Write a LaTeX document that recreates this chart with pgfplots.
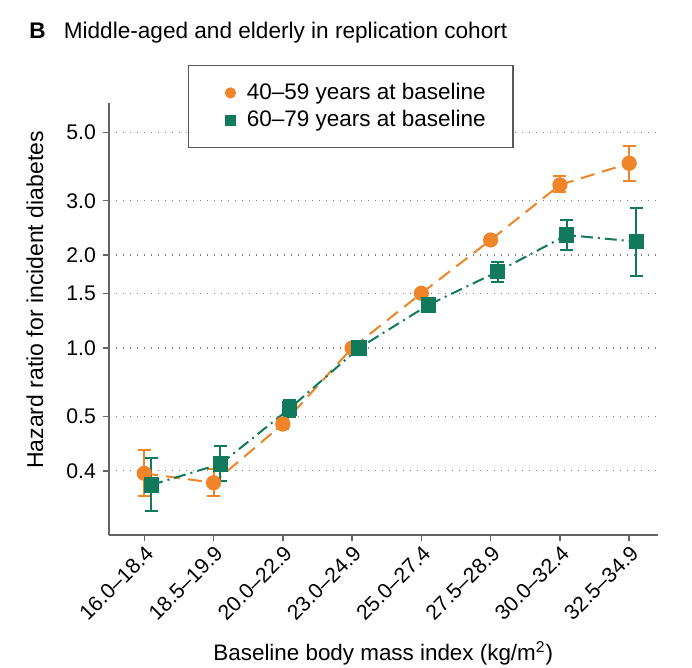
\documentclass[border=0pt]{standalone}
\usepackage{pgfplots}
\pgfplotsset{compat=1.18}
\usepackage{pgfplotstable}
\usepackage{fontspec}
\setmainfont{Liberation Sans}
\definecolor{cOr}{RGB}{240,132,40}
\definecolor{cGr}{RGB}{18,122,92}
\definecolor{axgray}{RGB}{100,100,100}

\pgfplotstableread{
x y ep em
0 0.3926 0.0744 0.0612
1 0.366 0.038 0.0346
2 0.567 0.02 0.02
3 1.0 0 0
4 1.504 0.03 0.03
5 2.239 0.04 0.04
6 3.375 0.235 0.179
7 3.968 0.547 0.484
}\orangedata

\pgfplotstableread{
x y ep em
0.1 0.360 0.079 0.063
1.1 0.421 0.060 0.0495
2.1 0.637 0.041 0.041
3.1 1.0 0 0
4.1 1.378 0.071 0.067
5.1 1.767 0.138 0.127
6.1 2.323 0.276 0.245
7.1 2.211 0.625 0.496
}\greendata

\begin{document}
\begin{tikzpicture}
\useasboundingbox (0,0) rectangle (346pt,334pt);
\begin{axis}[
  at={(54.5pt,66.5pt)}, anchor=south west,
  scale only axis, width=274.3pt, height=216pt,
  ymode=log,
  xmin=-0.509, xmax=7.41,
  ymin=0.2478, ymax=6.22,
  axis x line*=bottom, axis y line*=left,
  axis line style={axgray, line width=0.75pt, -},
  tick align=outside,
  major tick length=3pt,
  tick style={axgray, line width=0.75pt},
  xtick={0,...,7},
  xticklabels={16.0--18.4,18.5--19.9,20.0--22.9,23.0--24.9,25.0--27.4,27.5--28.9,30.0--32.4,32.5--34.9},
  xticklabel style={rotate=45, anchor=north east, font=\fontsize{10.6}{12}\selectfont, inner sep=1pt},
  ytick={0.4,0.6,1,1.5,2,3,5},
  yticklabels={0.4,0.5,1.0,1.5,2.0,3.0,5.0},
  yticklabel style={font=\fontsize{10.6}{12}\selectfont},
  yminorticks=false,
  /pgf/number format/assume math mode=true,
  ymajorgrids,
  major grid style={gray, line width=0.6pt, dash pattern=on 0.7pt off 2.8pt},
  every axis x label/.style={at={(axis description cs:0.5,0)}, anchor=center, yshift=-59pt, font=\fontsize{11.2}{13}\selectfont},
  every axis y label/.style={at={([xshift=-37pt]axis description cs:0,0.544)}, rotate=90, anchor=center, font=\fontsize{11.5}{13}\selectfont},
  xlabel={Baseline body mass index (kg/m\textsuperscript{2})},
  ylabel={Hazard ratio for incident diabetes},
  legend image code/.code={\path (-10.5pt,0pt) (5.8pt,0pt); \draw[#1] plot coordinates {(0pt,0pt)};},
  legend style={at={(axis description cs:0.144,1.088)}, anchor=north west, draw=black!65, line width=0.75pt,
    font=\fontsize{11.25}{13}\selectfont, inner xsep=10pt, inner ysep=6.75pt, row sep=0pt},
  legend cell align=left,
  clip=false,
]
\addplot[forget plot, cOr, line width=1pt, dash pattern=on 7pt off 4pt,
  mark=*, mark size=3.3pt, mark options={solid, fill=cOr, draw=cOr},
  error bars/.cd, y dir=both, y explicit,
  error bar style={solid, line width=1pt},
  error mark options={solid, line width=1pt, mark size=3.25pt, rotate=90}]
  table[x=x, y=y, y error plus=ep, y error minus=em] {\orangedata};
\addplot[forget plot, cGr, line width=1pt, dash pattern=on 6pt off 2.5pt on 1pt off 2.5pt,
  mark=square*, mark size=3.3pt, mark options={solid, fill=cGr, draw=cGr},
  error bars/.cd, y dir=both, y explicit,
  error bar style={solid, line width=1pt},
  error mark options={solid, line width=1pt, mark size=3.25pt, rotate=90}]
  table[x=x, y=y, y error plus=ep, y error minus=em] {\greendata};
\addlegendimage{only marks, mark=*, mark size=2.6pt, cOr, mark options={fill=cOr, draw=cOr, line width=0.4pt}}
\addlegendentry{40--59 years at baseline\hspace*{1.5pt}}
\addlegendimage{only marks, mark=square*, mark size=2.5pt, cGr, mark options={fill=cGr, draw=cGr, line width=0.4pt}}
\addlegendentry{60--79 years at baseline\hspace*{1.5pt}}
\end{axis}
\node[anchor=base west, inner sep=0pt, font=\fontsize{11.3}{13}\selectfont\bfseries] at (14.5pt,314.9pt) {B};
\node[anchor=base west, inner sep=0pt, font=\fontsize{11.3}{13}\selectfont] at (31.7pt,314.9pt) {Middle-aged and elderly in replication cohort};
\end{tikzpicture}
\end{document}
